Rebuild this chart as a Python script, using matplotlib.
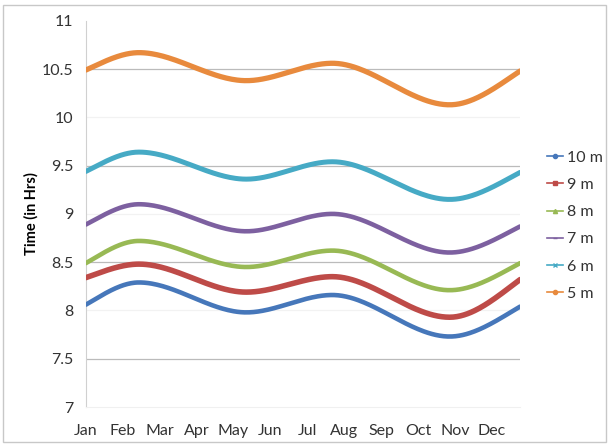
import numpy as np
import matplotlib
matplotlib.use('Agg')
import matplotlib.pyplot as plt
from matplotlib.patches import Rectangle
from matplotlib.lines import Line2D

months = ['Jan', 'Feb', 'Mar', 'Apr', 'May', 'Jun',
          'Jul', 'Aug', 'Sep', 'Oct', 'Nov', 'Dec']

# turning points of each curve, in month units (Jan = 0)
key_x = [0.0, 1.44, 4.35, 6.68, 9.86, 11.77]

depth_10m = [8.06, 8.29, 7.98, 8.16, 7.73, 8.04]
depth_9m = [8.34, 8.48, 8.19, 8.35, 7.93, 8.32]
depth_8m = [8.49, 8.72, 8.45, 8.62, 8.21, 8.49]
depth_7m = [8.89, 9.10, 8.82, 9.00, 8.60, 8.87]
depth_6m = [9.44, 9.64, 9.36, 9.54, 9.15, 9.43]
depth_5m = [10.49, 10.67, 10.38, 10.56, 10.13, 10.48]

labels = ['10 m', '9 m', '8 m', '7 m', '6 m', '5 m']
colors = ['#4677BA', '#BE4B48', '#98B954', '#7D60A0', '#46AAC5', '#E88A3D']
widths = [3.3, 4.0, 3.3, 3.3, 3.6, 3.8]
markers = ['o', 's', '^', '_', 'x', 'o']


def smooth(xs, ys, n=60):
    """Hermite curve through turning points (flat at the interior extrema)."""
    xs = np.asarray(xs, float)
    ys = np.asarray(ys, float)
    slopes = np.zeros_like(ys)
    slopes[0] = 1.4 * (ys[1] - ys[0]) / (xs[1] - xs[0])
    slopes[-1] = 1.4 * (ys[-1] - ys[-2]) / (xs[-1] - xs[-2])
    out_x, out_y = [], []
    for i in range(len(xs) - 1):
        h = xs[i + 1] - xs[i]
        t = np.linspace(0, 1, n)
        h00 = 2 * t**3 - 3 * t**2 + 1
        h10 = t**3 - 2 * t**2 + t
        h01 = -2 * t**3 + 3 * t**2
        h11 = t**3 - t**2
        out_x.append(xs[i] + t * h)
        out_y.append(h00 * ys[i] + h10 * h * slopes[i] + h01 * ys[i + 1] + h11 * h * slopes[i + 1])
    return np.concatenate(out_x), np.concatenate(out_y)


plt.rcParams['font.family'] = ['Lato', 'DejaVu Sans']

fig = plt.figure(figsize=(6.09, 4.46), dpi=100)
ax = fig.add_axes([0.141, 0.0874, 0.713, 0.866])

series = [depth_10m, depth_9m, depth_8m, depth_7m, depth_6m, depth_5m]
for vals, col, lw in zip(series, colors, widths):
    sx, sy = smooth(key_x, vals)
    ax.plot(sx, sy, color=col, linewidth=lw, solid_capstyle='round', zorder=3)

ax.set_xlim(0, 11.77)
ax.set_ylim(7, 11)
ax.set_yticks(np.arange(7, 11.01, 0.5))
ax.set_yticklabels(['7', '7.5', '8', '8.5', '9', '9.5', '10', '10.5', '11'])
ax.set_xticks(range(12))
ax.set_xticklabels(months)
ax.tick_params(length=0, labelsize=11.5, colors='#333333')
ax.tick_params(axis='x', pad=12)
ax.tick_params(axis='y', pad=9)

# half-hour gridlines are drawn stronger than the whole-hour ones
for y in np.arange(7.5, 11, 0.5):
    strong = abs(y - round(y)) > 0.1
    ax.axhline(y, color='#BBBBBB' if strong else '#F2F2F2', linewidth=0.9, zorder=1)

for side in ['top', 'right']:
    ax.spines[side].set_visible(False)
ax.spines['left'].set_color('#D0D0D0')
ax.spines['bottom'].set_color('#F0F0F0')

ax.set_ylabel('Time (in Hrs)', fontsize=10.5, fontweight='bold', labelpad=2)

handles = [Line2D([0], [0], color=c, linewidth=1.2, marker=m, markersize=3)
           for c, m in zip(colors, markers)]
leg = fig.legend(handles, labels, loc='upper left', bbox_to_anchor=(0.888, 0.677),
                 frameon=False, fontsize=11.5, handlelength=1.0, handletextpad=0.25,
                 labelspacing=0.82, borderaxespad=0)
for t in leg.get_texts():
    t.set_color('#333333')

fig.patches.append(Rectangle((0.005, 0.008), 0.99, 0.98, transform=fig.transFigure,
                             fill=False, edgecolor='#C8C8C8', linewidth=1))

fig.savefig('out.png', dpi=100)
